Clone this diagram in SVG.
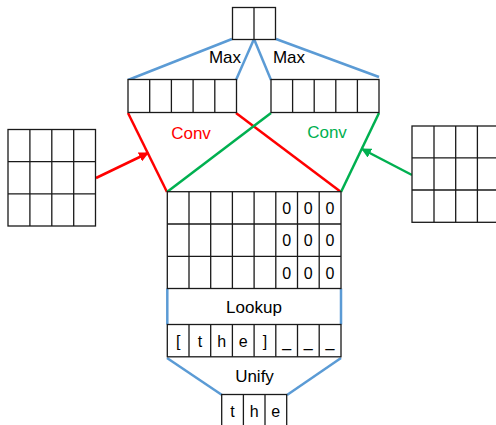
<svg xmlns="http://www.w3.org/2000/svg" width="496" height="425" viewBox="0 0 496 425">
<defs>
<style>
.g{fill:#fff;stroke:#1a1a1a;stroke-width:1.3}
.l{stroke:#1a1a1a;stroke-width:1.3;fill:none}
.b{stroke:#5b9bd5;stroke-width:2.5;fill:none}
.r{stroke:#ff0000;stroke-width:2.5;fill:none}
.gr{stroke:#00b050;stroke-width:2.5;fill:none}
text{font-family:"Liberation Sans",Arial,sans-serif;font-size:17px;fill:#000;text-anchor:middle}
.c{font-size:16px}
</style>
<marker id="ar" viewBox="0 0 10 10" refX="9" refY="5" markerWidth="4" markerHeight="4" orient="auto"><path d="M0,0L10,5L0,10z" fill="#ff0000"/></marker>
<marker id="ag" viewBox="0 0 10 10" refX="9" refY="5" markerWidth="4" markerHeight="4" orient="auto"><path d="M0,0L10,5L0,10z" fill="#00b050"/></marker>
</defs>
<g id="connectors">
<line class="b" x1="232" y1="39" x2="128" y2="80"/>
<line class="b" x1="254" y1="39" x2="236" y2="80"/>
<line class="b" x1="254" y1="39" x2="271" y2="80"/>
<line class="b" x1="276" y1="39" x2="379" y2="77"/>
<line class="r" x1="128" y1="113" x2="167" y2="192"/>
<line class="r" x1="236" y1="113" x2="341" y2="192"/>
<line class="gr" x1="271" y1="113" x2="167" y2="192"/>
<line class="gr" x1="379" y1="113" x2="341" y2="192"/>
<line class="r" x1="96" y1="178" x2="148" y2="153" marker-end="url(#ar)"/>
<line class="gr" x1="412" y1="175" x2="362" y2="149" marker-end="url(#ag)"/>
<line class="b" x1="167" y1="358" x2="222" y2="395"/>
<line class="b" x1="341" y1="358" x2="287" y2="395"/>
<line class="b" x1="167.3" y1="288.5" x2="167.3" y2="324.5"/>
<line class="b" x1="341" y1="288.5" x2="341" y2="324.5"/>
</g>
<g id="top">
<rect class="g" x="232.5" y="7.5" width="43" height="32"/>
<line class="l" x1="254" y1="7.5" x2="254" y2="39.5"/>
</g>
<g id="maxlabels">
<text x="225" y="63">Max</text>
<text x="289" y="63">Max</text>
</g>
<g id="poolL">
<rect class="g" x="128" y="79.5" width="108.5" height="33"/>
<path class="l" d="M149.7 79.5V112.5M171.4 79.5V112.5M193.1 79.5V112.5M214.8 79.5V112.5"/>
</g>
<g id="poolR">
<rect class="g" x="271" y="79.5" width="108" height="33"/>
<path class="l" d="M292.6 79.5V112.5M314.2 79.5V112.5M335.8 79.5V112.5M357.4 79.5V112.5"/>
</g>
<g id="convlabels">
<text x="191" y="139" fill="#ff0000" style="fill:#ff0000">Conv</text>
<text x="327" y="138" style="fill:#00b050">Conv</text>
</g>
<g id="leftmatrix">
<rect class="g" x="8" y="129.5" width="87.5" height="96.5"/>
<path class="l" d="M29.9 129.5V226M51.8 129.5V226M73.7 129.5V226M8 161.7H95.5M8 193.8H95.5"/>
</g>
<g id="rightmatrix">
<rect class="g" x="412" y="126" width="88" height="96.3"/>
<path class="l" d="M434 126V222.3M455.7 126V222.3M477.4 126V222.3M412 157.8H500M412 190H500"/>
</g>
<g id="matrix">
<rect class="g" x="167.3" y="191.7" width="173.7" height="96.8"/>
<path class="l" d="M189 191.7V288.5M210.7 191.7V288.5M232.4 191.7V288.5M254.1 191.7V288.5M275.8 191.7V288.5M297.5 191.7V288.5M319.2 191.7V288.5M167.3 224H341M167.3 256.3H341"/>
<text class="c" x="286.6" y="214">0</text><text class="c" x="308.3" y="214">0</text><text class="c" x="330" y="214">0</text>
<text class="c" x="286.6" y="246.3">0</text><text class="c" x="308.3" y="246.3">0</text><text class="c" x="330" y="246.3">0</text>
<text class="c" x="286.6" y="278.6">0</text><text class="c" x="308.3" y="278.6">0</text><text class="c" x="330" y="278.6">0</text>
</g>
<g id="lookup">
<text x="254" y="313">Lookup</text>
</g>
<g id="tokens">
<rect class="g" x="167.3" y="324.5" width="173.7" height="32.3"/>
<path class="l" d="M189 324.5V356.8M210.7 324.5V356.8M232.4 324.5V356.8M254.1 324.5V356.8M275.8 324.5V356.8M297.5 324.5V356.8M319.2 324.5V356.8"/>
<text class="c" x="178.2" y="346.5">[</text><text class="c" x="199.9" y="346.5">t</text><text class="c" x="221.6" y="346.5">h</text><text class="c" x="243.3" y="346.5">e</text><text class="c" x="265" y="346.5">]</text><text class="c" x="286.6" y="346.5">_</text><text class="c" x="308.3" y="346.5">_</text><text class="c" x="330" y="346.5">_</text>
</g>
<g id="unifylabel">
<text x="254.5" y="382">Unify</text>
</g>
<g id="word">
<rect class="g" x="221.7" y="394.5" width="65" height="36"/>
<path class="l" d="M243.4 394.5V430M265 394.5V430"/>
<text class="c" x="232.5" y="417">t</text><text class="c" x="254.2" y="417">h</text><text class="c" x="275.8" y="417">e</text>
</g>
</svg>
